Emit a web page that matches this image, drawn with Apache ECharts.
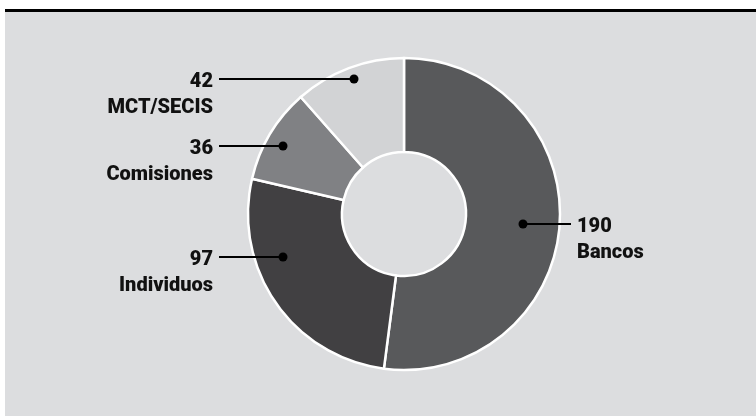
<!DOCTYPE html>
<html>
<head>
<meta charset="utf-8">
<script src="https://cdn.jsdelivr.net/npm/echarts@6/dist/echarts.min.js"></script>
<style>
  html, body { margin: 0; padding: 0; background: #ffffff; }
  #panel { position: absolute; left: 5px; top: 9px; width: 751px; height: 404px;
           background: #dcdddf; border-top: 3px solid #000; }
  #chart { position: absolute; left: 0; top: 0; width: 756px; height: 416px; }
</style>
</head>
<body>
<div id="panel"></div>
<div id="chart"></div>
<script>
// ---- data ----
const categories = ['Bancos', 'Individuos', 'Comisiones', 'MCT/SECIS'];
const values = [190, 97, 36, 42];
const colors = ['#58595b', '#414042', '#808184', '#d2d3d5'];

// ---- annotation layout (leader lines / label anchors, pixels) ----
const labelAnchors = [
  { dotX: 523, y: 224, lineEnd: 571, textX: 577, align: 'left' },
  { dotX: 283, y: 257, lineEnd: 219, textX: 213, align: 'right' },
  { dotX: 283, y: 146, lineEnd: 219, textX: 213, align: 'right' },
  { dotX: 354, y: 79,  lineEnd: 219, textX: 213, align: 'right' }
];

const chart = echarts.init(document.getElementById('chart'), null, { renderer: 'canvas' });

const seriesData = categories.map((c, i) => ({
  name: c, value: values[i], itemStyle: { color: colors[i] }
}));

const leaderGraphics = [];
labelAnchors.forEach(a => {
  leaderGraphics.push({
    type: 'line',
    shape: { x1: a.dotX, y1: a.y, x2: a.lineEnd, y2: a.y },
    style: { stroke: '#000', lineWidth: 2 },
    z: 100
  });
  leaderGraphics.push({
    type: 'circle',
    shape: { cx: a.dotX, cy: a.y, r: 4.5 },
    style: { fill: '#000' },
    z: 101
  });
});

const option = {
  backgroundColor: 'transparent',
  animation: false,
  series: [{
    type: 'pie',
    center: [404, 214],
    radius: [62, 156],
    startAngle: 90,
    clockwise: true,
    avoidLabelOverlap: false,
    itemStyle: { borderColor: '#ffffff', borderWidth: 2.5 },
    emphasis: { disabled: true },
    label: {
      show: true,
      position: 'outside',
      formatter: '{v|{c}}\n{n|{b}}',
      rich: {
        v: { fontFamily: 'Roboto', fontWeight: 900, fontSize: 20, color: '#111', lineHeight: 26 },
        n: { fontFamily: 'Roboto', fontWeight: 900, fontSize: 20, color: '#111', lineHeight: 26 }
      }
    },
    labelLine: { show: false },
    labelLayout: function (params) {
      const a = labelAnchors[params.dataIndex];
      return {
        x: a.textX,
        y: a.y - 10,
        align: a.align,
        verticalAlign: 'top'
      };
    },
    data: seriesData
  }],
  graphic: leaderGraphics
};

chart.setOption(option);
</script>
</body>
</html>
